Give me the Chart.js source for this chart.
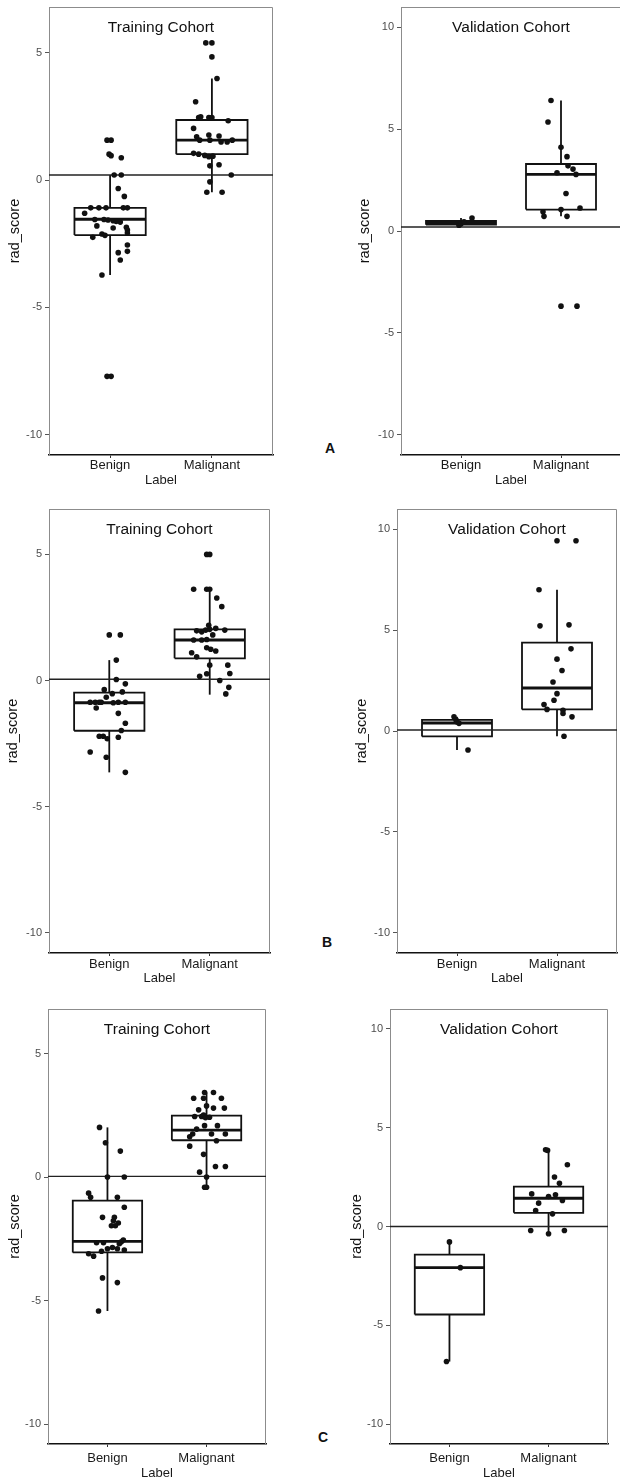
<!DOCTYPE html>
<html><head><meta charset="utf-8">
<script src="https://cdn.jsdelivr.net/npm/chart.js@4.4.1/dist/chart.umd.min.js"></script>
<style>
html,body{margin:0;padding:0;background:#fff;overflow:hidden;width:620px;height:1479px;position:relative;font-family:"Liberation Sans",Arial,sans-serif}
canvas{position:absolute}
.tag{position:absolute;font-weight:bold;font-size:14px;transform:translate(-50%,-50%);color:#111}
</style></head><body>
<div class="tag" style="left:330px;top:448px">A</div>
<div class="tag" style="left:327px;top:942px">B</div>
<div class="tag" style="left:323px;top:1437px">C</div>
<script>
// ---- data ---------------------------------------------------------------
const CATEGORIES=["Benign","Malignant"];
const TRAIN_Y_TICKS=[-10,-5,0,5];
const VALID_Y_TICKS=[-10,-5,0,5,10];
const CUTOFFS=[0.2,0.2,0.05,0.05,0.03,0];
// box stats: [lower whisker, q1, median, q3, upper whisker]
const A_TRAIN_BENIGN=[1.57,1.57,1.02,0.96,0.88,0.2,0.2,-0.33,-0.64,-1.09,-1.09,-1.09,-1.09,-1.09,-1.3,-1.55,-1.55,-1.57,-1.6,-1.62,-1.65,-1.8,-1.88,-1.85,-1.96,-2.25,-2.12,-2.17,-2.08,-2.55,-2.85,-2.8,-3.14,-3.73,-7.71,-7.71];
const A_TRAIN_BENIGN_JIT=[-0.03,0.01,-0.01,0.01,0.11,0.04,0.11,0.08,0.14,-0.19,-0.11,-0.04,0.13,0.17,-0.25,-0.15,-0.06,-0.02,0.03,0.06,0.1,-0.13,0.03,0.16,0.17,-0.17,-0.08,-0.05,0.17,0.17,0.08,0.17,0.1,-0.08,-0.03,0.01];
const A_TRAIN_BENIGN_BOX=[-3.73,-2.16,-1.54,-1.09,0.2];
const A_TRAIN_MALIG=[5.39,5.39,4.84,3.99,3.08,2.46,2.49,2.46,2.46,2.33,2.03,1.7,1.57,1.77,1.57,1.73,1.5,1.5,1.57,1.05,1.02,0.97,0.92,0.94,0.56,0.6,0.2,-0.07,-0.48,-0.48];
const A_TRAIN_MALIG_JIT=[-0.06,0,0,0.05,-0.16,-0.13,-0.11,-0.03,0,0.16,-0.18,-0.15,-0.12,-0.03,-0.02,0.07,0.09,0.15,0.2,-0.18,-0.13,-0.07,-0.03,0.01,-0.02,0.07,0.19,-0.02,-0.05,0.1];
const A_TRAIN_MALIG_BOX=[-0.48,1.02,1.57,2.36,3.99];

const A_VALID_BENIGN=[0.28,0.35,0.45,0.64];
const A_VALID_BENIGN_JIT=[-0.02,0,0.03,0.11];
const A_VALID_BENIGN_BOX=[0.28,0.31,0.42,0.5,0.64];
const A_VALID_MALIG=[6.41,5.35,4.11,3.65,3.2,3.04,2.78,2.86,1.84,1.13,1.05,0.94,0.72,0.72,-3.69,-3.69];
const A_VALID_MALIG_JIT=[-0.1,-0.13,0,0.06,0.07,0.12,0.15,-0.04,0.05,0.19,0,-0.18,-0.17,0.06,0,0.16];
const A_VALID_MALIG_BOX=[0.72,1.05,2.78,3.29,6.41];

const B_TRAIN_BENIGN=[1.81,1.81,0.81,0.04,-0.13,-0.36,-0.52,-0.45,-0.66,-0.86,-0.86,-0.86,-0.86,-0.88,-0.86,-0.86,-1.09,-1.3,-1.69,-1.98,-2.21,-2.21,-2.31,-2.25,-2.83,-3.04,-3.64];
const B_TRAIN_BENIGN_JIT=[0,0.11,0.07,0.07,0.16,-0.05,0.03,0.13,-0.03,-0.19,-0.14,-0.1,-0.08,0.04,0.09,0.16,-0.13,0.09,0.16,0.12,-0.1,-0.06,-0.02,0.09,-0.19,-0.03,0.16];
const B_TRAIN_BENIGN_BOX=[-3.64,-1.99,-0.88,-0.48,0.81];
const B_TRAIN_MALIG=[5,5,3.62,3.62,3.62,3.27,2.93,2.19,1.97,1.93,2,2.03,2.07,2,1.61,1.61,1.63,1.81,1.3,1.17,1.24,1.1,0.94,0.61,0.61,0.27,0.17,0.28,0,-0.27,-0.53];
const B_TRAIN_MALIG_JIT=[-0.03,0,-0.16,-0.03,0,0.07,0.12,-0.01,-0.13,-0.08,-0.04,0,0.06,0.15,-0.16,-0.08,-0.03,0.03,-0.03,0.06,0.01,-0.18,-0.13,0,0.18,-0.03,-0.1,0.2,0.1,0.19,0.16];
const B_TRAIN_MALIG_BOX=[-0.56,0.88,1.61,2.03,3.62];

const B_VALID_BENIGN=[0.7,0.55,0.45,0.38,-0.94];
const B_VALID_BENIGN_JIT=[-0.03,-0.01,0,0.02,0.11];
const B_VALID_BENIGN_BOX=[-0.94,-0.27,0.4,0.55,0.7];
const B_VALID_MALIG=[9.43,9.43,7,5.21,5.26,4.07,3.56,3,2.43,1.85,1.52,1.31,1.07,1.03,0.87,0.7,-0.26];
const B_VALID_MALIG_JIT=[0,0.19,-0.18,-0.17,0.12,0.14,0,0.05,-0.04,0,-0.03,-0.13,-0.1,0.06,0.06,0.15,0.07];
const B_VALID_MALIG_BOX=[-0.26,1.07,2.13,4.38,7];

const C_TRAIN_BENIGN=[2.01,1.39,1.05,0,0,-0.65,-0.82,-0.82,-1.22,-1.63,-1.63,-1.77,-1.86,-1.97,-1.97,-2.66,-2.66,-2.7,-2.55,-2.62,-3.1,-3.2,-3,-2.9,-2.85,-2.9,-2.95,-4.08,-4.27,-5.42];
const C_TRAIN_BENIGN_JIT=[-0.08,-0.02,0.13,0,0.17,-0.19,-0.17,0.1,0.17,-0.05,0.07,0.06,0.11,0.08,0.04,-0.11,-0.04,0.12,0.16,0.14,-0.19,-0.14,-0.06,0,0.05,0.1,0.17,-0.05,0.1,-0.09];
const C_TRAIN_BENIGN_BOX=[-5.42,-3.05,-2.6,-0.95,2.01];
const C_TRAIN_MALIG=[3.42,3.42,3.19,3.19,3.19,2.88,2.72,2.79,2.79,2.45,2.45,2.51,2.4,2.42,1.94,2.08,2.08,1.63,1.74,1.74,1.74,1.47,1.25,0.92,0.43,0.43,0.2,0,-0.41,-0.41];
const C_TRAIN_MALIG_JIT=[-0.02,0.07,-0.13,-0.03,0.15,0,-0.08,0.07,0.18,-0.12,-0.05,-0.03,-0.01,0.03,-0.1,-0.02,0.11,-0.17,-0.14,0.05,0.19,0.1,-0.17,-0.03,0.09,0.19,-0.07,0,-0.02,0];
const C_TRAIN_MALIG_BOX=[-0.41,1.49,1.9,2.49,3.42];

const C_VALID_BENIGN=[-0.78,-2.08,-6.83];
const C_VALID_BENIGN_JIT=[0,0.11,-0.03];
const C_VALID_BENIGN_BOX=[-6.83,-4.45,-2.08,-1.42,-0.78];
const C_VALID_MALIG=[3.88,3.85,3.12,2.5,2.19,1.65,1.52,1.6,1.32,1.18,0.81,0.64,-0.2,-0.2,-0.37];
const C_VALID_MALIG_JIT=[-0.03,-0.01,0.19,0.06,0.11,-0.17,0,0.07,0.14,-0.1,-0.13,0.04,-0.18,0.16,0];
const C_VALID_MALIG_BOX=[-0.37,0.69,1.43,2.02,3.88];

// ---- layout (page pixels) -------------------------------------------------
const FONT='"Liberation Sans", Arial, sans-serif';
Chart.defaults.font.family=FONT;
const PANELS=[
 {title:"Training Cohort",  rect:[49,7,273,455],     cx:0,   yTitleX:15,  xTickPad:0, xTitleOff:25, y:[-10.8,6.8], ticks:TRAIN_Y_TICKS, cut:CUTOFFS[0],
  groups:[[A_TRAIN_BENIGN,A_TRAIN_BENIGN_JIT,A_TRAIN_BENIGN_BOX],[A_TRAIN_MALIG,A_TRAIN_MALIG_JIT,A_TRAIN_MALIG_BOX]]},
 {title:"Validation Cohort",rect:[401,7,621,455],    cx:300, yTitleX:365, xTickPad:0, xTitleOff:25, y:[-11,11],     ticks:VALID_Y_TICKS, cut:CUTOFFS[1],
  groups:[[A_VALID_BENIGN,A_VALID_BENIGN_JIT,A_VALID_BENIGN_BOX],[A_VALID_MALIG,A_VALID_MALIG_JIT,A_VALID_MALIG_BOX]]},
 {title:"Training Cohort",  rect:[49,509,270,953],   cx:0,   yTitleX:13,  xTickPad:1, xTitleOff:25, y:[-10.8,6.8], ticks:TRAIN_Y_TICKS, cut:CUTOFFS[2],
  groups:[[B_TRAIN_BENIGN,B_TRAIN_BENIGN_JIT,B_TRAIN_BENIGN_BOX],[B_TRAIN_MALIG,B_TRAIN_MALIG_JIT,B_TRAIN_MALIG_BOX]]},
 {title:"Validation Cohort",rect:[397,509,617,953],  cx:300, yTitleX:362, xTickPad:1, xTitleOff:25, y:[-11,11],     ticks:VALID_Y_TICKS, cut:CUTOFFS[3],
  groups:[[B_VALID_BENIGN,B_VALID_BENIGN_JIT,B_VALID_BENIGN_BOX],[B_VALID_MALIG,B_VALID_MALIG_JIT,B_VALID_MALIG_BOX]]},
 {title:"Training Cohort",  rect:[48,1009,266,1444], cx:0,   yTitleX:15,  xTickPad:4, xTitleOff:29, y:[-10.8,6.8], ticks:TRAIN_Y_TICKS, cut:CUTOFFS[4],
  groups:[[C_TRAIN_BENIGN,C_TRAIN_BENIGN_JIT,C_TRAIN_BENIGN_BOX],[C_TRAIN_MALIG,C_TRAIN_MALIG_JIT,C_TRAIN_MALIG_BOX]]},
 {title:"Validation Cohort",rect:[390,1009,608,1444],cx:300, yTitleX:357, xTickPad:4, xTitleOff:29, y:[-11,11],     ticks:VALID_Y_TICKS, cut:CUTOFFS[5],
  groups:[[C_VALID_BENIGN,C_VALID_BENIGN_JIT,C_VALID_BENIGN_BOX],[C_VALID_MALIG,C_VALID_MALIG_JIT,C_VALID_MALIG_BOX]]}
];
const BOX_HALF=0.35, X_MIN=0.4, X_MAX=2.6;
const INK="#111";

function path(pts,w,color){
  return {type:"scatter",showLine:true,data:pts.map(p=>({x:p[0],y:p[1]})),borderColor:color||INK,borderWidth:w,
    pointRadius:0,fill:false,tension:0,borderJoinStyle:"miter",borderCapStyle:"butt"};
}
function datasets(p){
  const pts=[],lines=[];
  p.groups.forEach((g,gi)=>{
    const c=gi+1,[vals,jit,box]=g,[lo,q1,med,q3,hi]=box,h=BOX_HALF;
    pts.push({type:"scatter",data:vals.map((v,i)=>({x:c+jit[i],y:v})),pointRadius:2.8,pointBackgroundColor:INK,pointBorderWidth:0});
    lines.push(path([[c-h,med],[c+h,med]],2.9));
    lines.push(path([[c-h,q1],[c-h,q3],[c+h,q3],[c+h,q1],[c-h,q1]],1.8));
    lines.push(path([[c,q3],[c,hi]],1.8));
    lines.push(path([[c,lo],[c,q1]],1.8));
  });
  return pts.concat([path([[X_MIN,p.cut],[X_MAX,p.cut]],1.4,"#222")]).concat(lines);
}

const frame={
  id:"frame",
  beforeDatasetsDraw(chart,args,o){
    const {ctx,chartArea:a}=chart;
    ctx.save(); ctx.strokeStyle="#8c8c8c"; ctx.lineWidth=1;
    ctx.beginPath(); ctx.moveTo(a.left,a.top+0.5); ctx.lineTo(a.right-0.5,a.top+0.5); ctx.lineTo(a.right-0.5,a.bottom); ctx.stroke();
    ctx.restore();
  },
  afterDatasetsDraw(chart,args,o){
    const {ctx,chartArea:a}=chart;
    ctx.save(); ctx.fillStyle="#111"; ctx.font="15.5px "+FONT; ctx.textAlign="center"; ctx.textBaseline="middle";
    ctx.fillText(o.title,(a.left+a.right)/2,a.top+21); ctx.restore();
  }
};

PANELS.forEach(p=>{
  const [L,T,R,B]=p.rect;
  const yTitleHalf=14.5*1.2/2, xTitleHalf=13*1.2/2;
  const Hx=p.xTitleOff+xTitleHalf;
  const pad={left:p.yTitleX-yTitleHalf-p.cx,top:15,right:15,bottom:6};
  const Wy=L-p.cx-pad.left;
  const cv=document.createElement("canvas");
  const cw=R+15-p.cx, ch=(B-T)+15+Hx+6;
  cv.width=Math.round(cw); cv.height=Math.round(ch);
  cv.style.left=p.cx+"px"; cv.style.top=(T-15)+"px";
  pad.bottom+=cv.height-ch; pad.right+=cv.width-cw;
  document.body.appendChild(cv);
  new Chart(cv.getContext("2d"),{
    type:"scatter",
    data:{datasets:datasets(p)},
    options:{
      responsive:false,animation:false,devicePixelRatio:1,events:[],
      layout:{padding:pad,autoPadding:false},
      plugins:{legend:{display:false},tooltip:{enabled:false},frame:{title:p.title}},
      scales:{
        x:{type:"linear",min:X_MIN,max:X_MAX,
          afterBuildTicks:s=>{s.ticks=CATEGORIES.map((c,i)=>({value:i+1}));},
          afterFit:s=>{s.height=Hx;},
          ticks:{callback:v=>CATEGORIES[v-1]||"",color:"#1a1a1a",font:{size:13},padding:p.xTickPad,maxRotation:0,autoSkip:false},
          grid:{display:true,drawOnChartArea:false,drawTicks:true,tickLength:3,color:"#333"},
          border:{display:true,color:"#111",width:1.6},
          title:{display:true,text:"Label",color:"#1a1a1a",font:{size:13},padding:0}},
        y:{type:"linear",min:p.y[0],max:p.y[1],
          afterBuildTicks:s=>{s.ticks=p.ticks.map(v=>({value:v}));},
          afterFit:s=>{s.width=Wy;},
          ticks:{color:"#4d4d4d",font:{size:11},padding:3},
          grid:{display:true,drawOnChartArea:false,drawTicks:true,tickLength:4,color:"#555"},
          border:{display:true,color:"#8c8c8c",width:1},
          title:{display:true,text:"rad_score",color:"#111",font:{size:14.5},padding:0}}
      }
    },
    plugins:[frame]
  });
});
</script>
</body></html>
